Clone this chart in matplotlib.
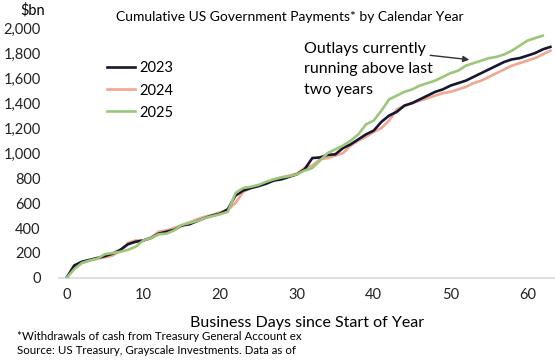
import numpy as np
import matplotlib
matplotlib.use("Agg")
from matplotlib import pyplot as plt

plt.rcParams['font.family'] = ['Lato', 'DejaVu Sans']

# cumulative payments, $bn, by business day since start of year
days_23 = list(range(0, 64))
pay_23 = [0, 100, 130, 145, 160, 175, 195, 225, 270, 290,
          300, 320, 355, 370, 385, 420, 430, 455, 480, 500,
          515, 550, 660, 700, 720, 735, 755, 780, 790, 810,
          830, 870, 960, 965, 985, 990, 1040, 1070, 1110, 1150,
          1180, 1250, 1300, 1330, 1380, 1400, 1430, 1460, 1490, 1510,
          1540, 1560, 1580, 1610, 1640, 1670, 1700, 1730, 1750, 1760,
          1780, 1800, 1830, 1850]
days_24 = list(range(0, 64))
pay_24 = [0, 80, 120, 140, 155, 165, 180, 215, 280, 300,
          300, 325, 370, 380, 400, 420, 445, 470, 490, 505,
          525, 545, 600, 690, 720, 740, 760, 790, 805, 820,
          835, 880, 900, 950, 960, 980, 1000, 1060, 1100, 1130,
          1170, 1200, 1260, 1350, 1380, 1400, 1420, 1440, 1460, 1480,
          1490, 1510, 1530, 1560, 1580, 1610, 1640, 1670, 1700, 1720,
          1740, 1760, 1790, 1820]
days_25 = list(range(0, 63))
pay_25 = [0, 70, 120, 140, 155, 190, 200, 210, 225, 250,
          300, 320, 350, 355, 380, 425, 440, 455, 480, 495,
          510, 530, 680, 720, 730, 745, 770, 790, 805, 815,
          830, 860, 880, 940, 1000, 1030, 1060, 1100, 1150, 1230,
          1260, 1340, 1430, 1460, 1490, 1510, 1540, 1560, 1580, 1610,
          1640, 1660, 1700, 1720, 1740, 1760, 1770, 1790, 1820, 1860,
          1900, 1920, 1940]

y_ticks = [0, 200, 400, 600, 800, 1000, 1200, 1400, 1600, 1800, 2000]
x_ticks = [0, 10, 20, 30, 40, 50, 60]

fig = plt.figure(figsize=(5.55, 3.61), dpi=100)
ax = fig.add_axes([0.106, 0.23, 0.894, 0.692])

ax.plot(days_24, pay_24, color='#f2a58f', lw=1.9, label='2024', zorder=2)
ax.plot(days_23, pay_23, color='#16162f', lw=1.9, label='2023', zorder=3)
ax.plot(days_25, pay_25, color='#9cc77a', lw=1.9, label='2025', zorder=4)

ax.set_xlim(-1, 63.6)
ax.set_ylim(0, 2000)
ax.set_yticks(y_ticks)
ax.set_yticklabels([f"{v:,}" for v in y_ticks])
ax.set_xticks(x_ticks)
for s in ['top', 'right', 'left']:
    ax.spines[s].set_visible(False)
ax.spines['bottom'].set_color('#d9d9d9')
ax.spines['bottom'].set_linewidth(1.2)
ax.tick_params(length=0, labelsize=10.5, colors='#222222', pad=7)
ax.tick_params(axis='y', pad=13)
ax.set_xlabel('Business Days since Start of Year', fontsize=11.5, labelpad=10)

h, l = ax.get_legend_handles_labels()
order = [1, 0, 2]
ax.legend([h[i] for i in order], [l[i] for i in order],
          loc='upper left', bbox_to_anchor=(0.17, 0.866), bbox_transform=fig.transFigure,
          frameon=False, fontsize=10.5, handlelength=1.9, handletextpad=0.25,
          labelspacing=0.55)

ax.text(30.9, 1890, 'Outlays currently\nrunning above last\ntwo years', fontsize=11.5,
        va='top', ha='left', linespacing=1.6)
ax.annotate('', xy=(52.8, 1745), xytext=(47.0, 1785),
            arrowprops=dict(arrowstyle='-|>', color='#333333', lw=1.0, mutation_scale=9))

fig.text(0.523, 0.953, 'Cumulative US Government Payments* by Calendar Year',
         ha='center', va='center', fontsize=10)
fig.text(0.036, 0.972, '$bn', ha='left', va='center', fontsize=10.5)
fig.text(0.03, 0.068, '*Withdrawals of cash from Treasury General Account ex',
         ha='left', va='center', fontsize=8.3)
fig.text(0.03, 0.03, 'Source: US Treasury, Grayscale Investments. Data as of',
         ha='left', va='center', fontsize=8.3)

fig.savefig('out.png', dpi=100)
